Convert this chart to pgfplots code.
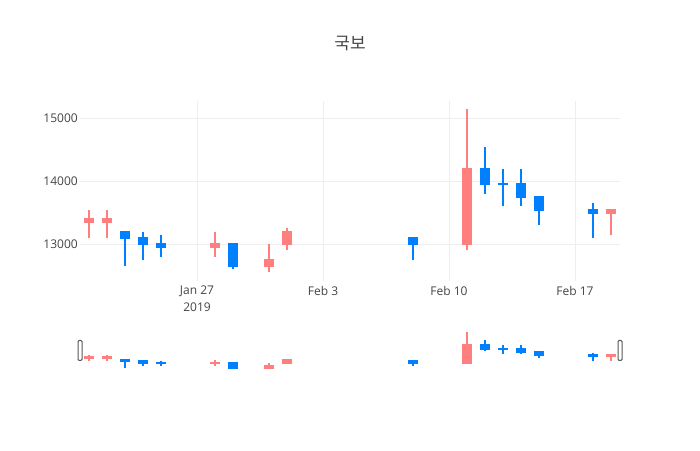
\documentclass[border=0pt]{standalone}
\usepackage{fontspec}
\setmainfont{Open Sans}
\newfontfamily\krfont{Noto Sans CJK KR}
\usepackage{pgfplots}
\usepackage{pgfplotstable}
\pgfplotsset{compat=1.18}
\definecolor{incc}{RGB}{255,127,127}
\definecolor{decc}{RGB}{0,127,255}
\definecolor{gridc}{RGB}{238,238,238}
\definecolor{txt}{RGB}{68,68,68}

% day of year 2019: Jan 21 = 21, Feb 1 = 32
\pgfplotstableread{
d o h l c
21 13350 13550 13100 13400
22 13350 13550 13100 13400
28 12950 13200 12800 13000
31 12650 13000 12550 12750
32 13000 13250 12900 13200
42 13000 15150 12900 14200
50 13500 13550 13150 13550
}\inc
\pgfplotstableread{
d o h l c
23 13200 13200 12650 13100
24 13100 13200 12750 13000
25 13000 13150 12800 12950
29 13000 13000 12600 12650
39 13100 13100 12750 13000
43 14200 14550 13800 13950
44 13950 14200 13600 13950
45 13950 14200 13600 13750
46 13750 13750 13300 13550
49 13550 13650 13100 13500
}\dec

\pgfplotsset{
  wick/.style={draw=none, mark=none, forget plot,
    error bars/.cd, y dir=plus, y explicit, error mark=none,
    error bar style={line width=1.5pt, draw=#1}},
  body/.style={draw=none, mark=none, forget plot,
    error bars/.cd, y dir=both, y explicit, error mark=|,
    error bar style={line width=8pt, draw=#1, line cap=butt},
    error mark options={line width=1.5pt, mark size=4pt, draw=#1}},
}

\newcommand{\candles}{%
  \addplot[wick=incc] table[x=d, y=l, y error plus expr=\thisrow{h}-\thisrow{l}] {\inc};
  \addplot[wick=decc] table[x=d, y=l, y error plus expr=\thisrow{h}-\thisrow{l}] {\dec};
  \addplot[body=incc] table[x=d, y expr={(\thisrow{o}+\thisrow{c})/2}, y error expr={abs(\thisrow{c}-\thisrow{o})/2}] {\inc};
  \addplot[body=decc] table[x=d, y expr={(\thisrow{o}+\thisrow{c})/2}, y error expr={abs(\thisrow{c}-\thisrow{o})/2}] {\dec};
}

\begin{document}
\begin{tikzpicture}
\useasboundingbox (0,0) rectangle (525pt,337.5pt);
\node[text=txt, font=\krfont\fontsize{12.75}{15}\selectfont] at (262.5pt,305pt) {국보};

\begin{axis}[
  at={(60pt,127pt)}, anchor=south west,
  width=405pt, height=135pt, scale only axis,
  xmin=20.5, xmax=50.5, ymin=12420, ymax=15280,
  axis line style={draw=none}, major tick length=0pt,
  scaled y ticks=false,
  xtick={27,34,41,48},
  xticklabels={{Jan 27\\2019},{Feb 3},{Feb 10},{Feb 17}},
  ytick={13000,14000,15000},
  yticklabels={13000,14000,15000},
  grid=major, major grid style={draw=gridc, line width=0.75pt},
  ticklabel style={font=\fontsize{9}{12.5}\selectfont, text=txt},
  xticklabel style={align=center, inner sep=0pt, yshift=-4pt},
  yticklabel style={inner sep=0pt, xshift=-1.5pt},
]
\candles
\end{axis}

\begin{axis}[
  name=slider,
  at={(60pt,59.25pt)}, anchor=south west,
  width=405pt, height=30.75pt, scale only axis,
  xmin=20.5, xmax=50.5, ymin=12420, ymax=15280,
  axis line style={draw=none}, ticks=none,
]
\candles
\end{axis}
\draw[black!65, fill=white, rounded corners=0.8pt, line width=0.75pt]
  ([xshift=-1.5pt,yshift=-7.5pt]slider.west) rectangle ([xshift=1.5pt,yshift=7.5pt]slider.west);
\draw[black!65, fill=white, rounded corners=0.8pt, line width=0.75pt]
  ([xshift=-1.5pt,yshift=-7.5pt]slider.east) rectangle ([xshift=1.5pt,yshift=7.5pt]slider.east);
\end{tikzpicture}
\end{document}
